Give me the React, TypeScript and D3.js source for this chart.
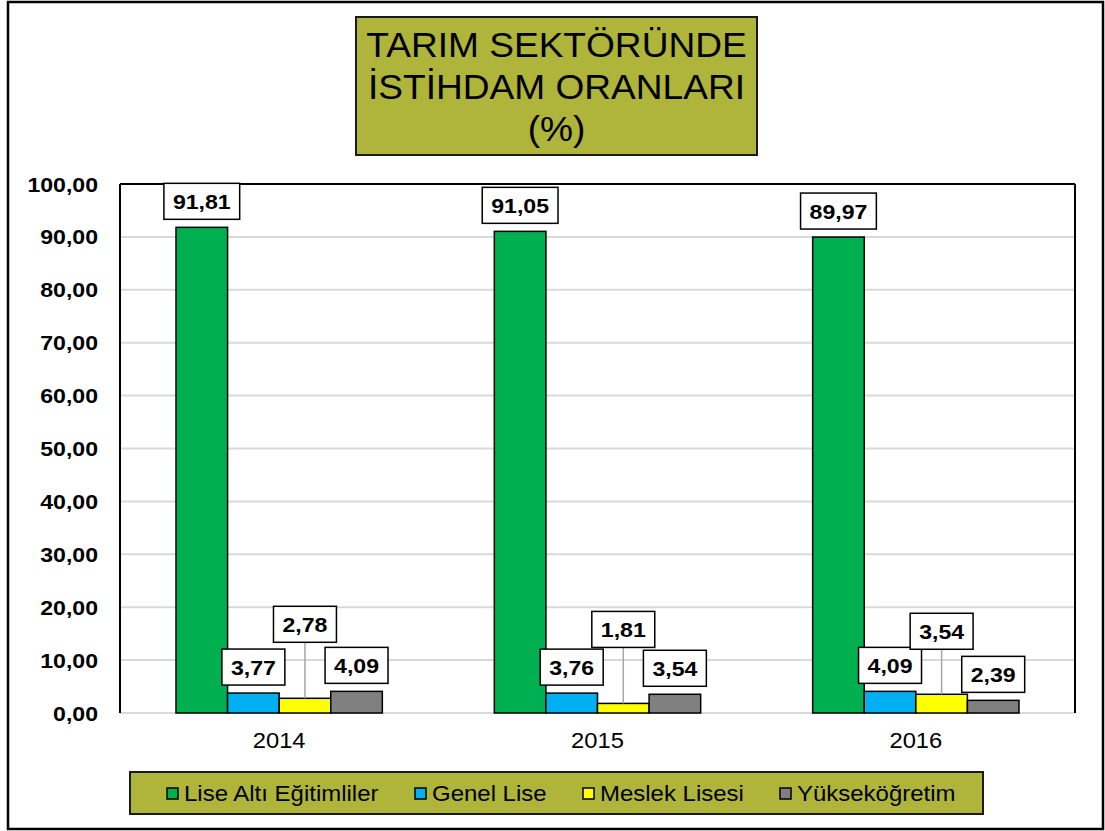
import React from "react";
import * as d3 from "d3";

const years = ["2014", "2015", "2016"];
const seriesNames = ["Lise Altı Eğitimliler", "Genel Lise", "Meslek Lisesi", "Yükseköğretim"];
const liseAlti = [91.81, 91.05, 89.97];
const genelLise = [3.77, 3.76, 4.09];
const meslekLisesi = [2.78, 1.81, 3.54];
const yuksekogretim = [4.09, 3.54, 2.39];
const yTicks = [0, 10, 20, 30, 40, 50, 60, 70, 80, 90, 100];
const titleLines = ["TARIM SEKTÖRÜNDE", "İSTİHDAM ORANLARI", "(%)"];

const seriesValues = [liseAlti, genelLise, meslekLisesi, yuksekogretim];
const colors = ["#00B050", "#00B0F0", "#FFFF00", "#808080"];
// extra upward shift (px) of the data labels of each series, per year
const labelLift = [
  [0, 0, 0],
  [0, 0, 0],
  [48, 48, 37],
  [0, 0, 0],
];
const legendX = [167, 415, 583, 780];

const FONT = "'Liberation Sans', Arial, sans-serif";
const fmt = (v: number) => v.toFixed(2).replace(".", ",");
const strWidthEm = (s: string) =>
  s.split("").reduce((a, c) => a + (c === "," ? 0.278 : 0.556), 0);

export default function App() {
  const W = 1105, H = 831;
  const left = 120, right = 1075, top = 184, bottom = 713;
  const x0 = d3.scaleBand<string>().domain(years).range([left, right]).padding(0);
  const groupPad = 56;
  const x1 = d3
    .scaleBand<number>()
    .domain(seriesNames.map((_, i) => i))
    .range([groupPad, x0.bandwidth() - groupPad])
    .padding(0);
  const y = d3.scaleLinear().domain([0, 100]).range([bottom, top]);
  const olive = "#AFB43B";
  const lblFs = 21, lblSx = 1.1;

  return (
    <svg
      width={W}
      height={H}
      style={{ position: "absolute", left: 0, top: 0, background: "#fff" }}
      fontFamily={FONT}
    >
      <rect x={8} y={2} width={1095} height={827} fill="#fff" stroke="#000" strokeWidth={2.5} />

      {/* gridlines */}
      {yTicks.map((t) => (
        <line key={"g" + t} x1={left} x2={right} y1={y(t)} y2={y(t)} stroke="#D9D9D9" strokeWidth={2} />
      ))}
      {/* plot border: top, left, right */}
      <line x1={left} x2={right} y1={top} y2={top} stroke="#000" strokeWidth={2} />
      <line x1={left} x2={left} y1={top} y2={bottom} stroke="#000" strokeWidth={2} />
      <line x1={right} x2={right} y1={top} y2={bottom} stroke="#000" strokeWidth={2} />

      {/* y tick labels */}
      {yTicks.map((t) => (
        <text
          key={"t" + t}
          transform={`translate(98,${y(t) + 7.5}) scale(1.1,1)`}
          textAnchor="end"
          fontSize={21}
          fontWeight="bold"
        >
          {fmt(t)}
        </text>
      ))}

      {/* bars */}
      {years.map((yr, yi) => (
        <g key={yr} transform={`translate(${x0(yr)},0)`}>
          {seriesValues.map((vals, si) => (
            <rect
              key={si}
              x={x1(si)}
              y={y(vals[yi])}
              width={x1.bandwidth()}
              height={y(0) - y(vals[yi])}
              fill={colors[si]}
              stroke="#000"
              strokeWidth={1.5}
            />
          ))}
        </g>
      ))}

      {/* data labels */}
      {years.map((yr, yi) =>
        seriesValues.map((vals, si) => {
          const v = vals[yi];
          const cx = (x0(yr) as number) + (x1(si) as number) + x1.bandwidth() / 2;
          const barTop = y(v);
          const s = fmt(v);
          const tw = strWidthEm(s) * lblFs * lblSx;
          const bw = tw + 18;
          const bh = 36;
          const lift = labelLift[si][yi];
          const by = barTop - 8 - lift - bh;
          return (
            <g key={yr + si}>
              {lift > 0 && (
                <line x1={cx} x2={cx} y1={by + bh} y2={barTop} stroke="#A6A6A6" strokeWidth={1.5} />
              )}
              <rect x={cx - bw / 2} y={by} width={bw} height={bh} fill="#fff" stroke="#000" strokeWidth={1.5} />
              <text
                transform={`translate(${cx},${by + bh / 2 + 7.5}) scale(${lblSx},1)`}
                textAnchor="middle"
                fontSize={lblFs}
                fontWeight="bold"
              >
                {s}
              </text>
            </g>
          );
        })
      )}

      {/* x labels */}
      {years.map((yr) => (
        <text
          key={"x" + yr}
          transform={`translate(${(x0(yr) as number) + x0.bandwidth() / 2},${748}) scale(1.08,1)`}
          textAnchor="middle"
          fontSize={22}
        >
          {yr}
        </text>
      ))}

      {/* title */}
      <rect x={356} y={17} width={401} height={138} fill={olive} stroke="#1a1a1a" strokeWidth={2} />
      {titleLines.map((l, i) => (
        <text
          key={"ti" + i}
          transform={`translate(556.5,${57 + i * 42}) scale(1.06,1)`}
          textAnchor="middle"
          fontSize={35}
        >
          {l}
        </text>
      ))}

      {/* legend */}
      <rect x={130} y={772} width={853} height={42} fill={olive} stroke="#1a1a1a" strokeWidth={2} />
      {seriesNames.map((n, i) => (
        <g key={"l" + i}>
          <rect x={legendX[i]} y={788} width={11} height={11} fill={colors[i]} stroke="#000" strokeWidth={1.5} />
          <text transform={`translate(${legendX[i] + 17},801) scale(1.09,1)`} fontSize={22}>
            {n}
          </text>
        </g>
      ))}
    </svg>
  );
}
